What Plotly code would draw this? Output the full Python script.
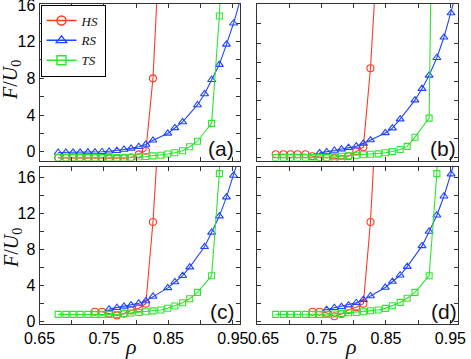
import plotly.graph_objects as go

# ---- data ----
rho_hs = [0.736, 0.747, 0.758, 0.770, 0.781, 0.792, 0.804, 0.815, 0.826, 0.838]
rho_hs_full = [0.679, 0.691, 0.702, 0.713, 0.725] + rho_hs
rho_rs = [0.758, 0.770, 0.781, 0.792, 0.804, 0.815, 0.826, 0.849, 0.860, 0.872,
          0.883, 0.906, 0.917, 0.929, 0.940, 0.951, 0.962]
rho_rs_a = [0.679, 0.691, 0.702, 0.713, 0.725, 0.736, 0.747, 0.758, 0.770, 0.781,
            0.792, 0.804, 0.815, 0.826, 0.849, 0.860, 0.872, 0.895, 0.906, 0.917,
            0.929, 0.940, 0.951, 0.962]
rho_rs_b = [0.747, 0.758, 0.770, 0.781, 0.792, 0.804, 0.815, 0.826, 0.849, 0.860,
            0.872, 0.895, 0.906, 0.917, 0.929, 0.940, 0.951, 0.962]
rho_ts = [0.679, 0.691, 0.702, 0.713, 0.725, 0.736, 0.747, 0.758, 0.770, 0.781,
          0.792, 0.804, 0.815, 0.826, 0.838, 0.849, 0.860, 0.872, 0.883, 0.895,
          0.917, 0.929, 0.940]

a_hs = [-0.66, -0.66, -0.66, -0.66, -0.66, -0.67, -0.68, -0.72, -0.72, -0.70,
        -0.62, -0.28, 0.12, 8.0, 25.0]
a_rs = [-0.08, -0.08, -0.07, -0.06, -0.04, -0.03, 0.0, 0.05, 0.12, 0.25,
        0.37, 0.55, 0.8, 1.25, 2.0, 2.6, 3.25, 5.1, 6.3, 7.85,
        9.5, 11.7, 14.0, 16.7]
a_ts = [-0.62, -0.62, -0.62, -0.62, -0.62, -0.62, -0.62, -0.62, -0.62, -0.6,
        -0.6, -0.57, -0.52, -0.45, -0.38, -0.25, -0.1, 0.12, 0.55, 1.15,
        3.1, 14.8, 31.0]

b_hs = [0.3, 0.3, 0.3, 0.3, 0.3, 0.1, 0.0, -0.05, -0.1, -0.2,
        0.1, 0.62, 1.05, 9.35, 23.0]
b_rs = [0.45, 0.55, 0.7, 0.85, 1.0, 1.15, 1.45, 1.8, 2.55, 3.05,
        4.0, 6.0, 7.2, 8.6, 10.45, 12.6, 15.15, 18.0]
b_ts = [-0.05, -0.05, -0.05, -0.05, -0.05, -0.05, -0.05, -0.05, 0.05, 0.1,
        0.15, 0.2, 0.25, 0.3, 0.35, 0.46, 0.6, 0.8, 1.13, 2.1,
        4.1, 66.0, 120.0]

c_hs = [1.1, 1.1, 0.9, 0.7, 0.9, 1.25, 1.5, 2.0, 11.05, 25.0]
c_rs = [1.4, 1.55, 1.7, 1.85, 2.05, 2.3, 2.8, 3.75, 4.4, 5.1,
        6.05, 8.3, 9.9, 11.7, 13.8, 16.2, 18.8]
c_ts = [0.82, 0.82, 0.82, 0.82, 0.82, 0.82, 0.82, 0.82, 0.8, 0.9,
        0.97, 1.02, 1.1, 1.2, 1.3, 1.5, 1.75, 2.1, 2.55, 3.25,
        5.1, 16.4, 60.0]

d_hs = [1.1, 1.1, 1.0, 0.6, 0.85, 1.3, 1.6, 2.0, 11.05, 27.0]
d_rs = [1.35, 1.55, 1.66, 1.85, 2.1, 2.45, 2.85, 3.8, 4.45, 5.15,
        6.1, 8.4, 10.0, 11.8, 13.9, 16.35, 19.0]
d_ts = [0.82, 0.82, 0.82, 0.82, 0.82, 0.82, 0.82, 0.82, 0.85, 0.93,
        1.0, 1.03, 1.1, 1.22, 1.3, 1.48, 1.77, 2.14, 2.6, 3.25,
        5.1, 16.4, 60.0]

x_ticks = [0.65, 0.75, 0.85, 0.95]
y_ticks = [0, 4, 8, 12, 16]

# ---- figure ----
W, H = 471, 359
RED, BLUE, GREEN = '#ff3b24', '#1f45ff', '#2ee62e'
FRAME = '#333333'

panels = [
    # label, hs (x, y), rs (x, y), ts (x, y), x px range, y px range, y range
    ('(a)', (rho_hs_full, a_hs), (rho_rs_a, a_rs), (rho_ts, a_ts), (39.5, 240), (4, 160.5), [-0.95, 16.1]),
    ('(b)', (rho_hs_full, b_hs), (rho_rs_b, b_rs), (rho_ts, b_ts), (257, 457.5), (4, 160.5), [-0.35, 16.1]),
    ('(c)', (rho_hs, c_hs), (rho_rs, c_rs), (rho_ts, c_ts), (39.5, 240), (166.7, 324), [-0.25, 17.17]),
    ('(d)', (rho_hs, d_hs), (rho_rs, d_rs), (rho_ts, d_ts), (257, 457.5), (166.7, 324), [-0.25, 17.17]),
]

fig = go.Figure()
annotations = []
tickfont = dict(family='Liberation Sans', size=16, color='black')

for i, (lab, hs, rs, ts, xpx, ypx, yr) in enumerate(panels):
    n = '' if i == 0 else str(i + 1)
    xa, ya = 'x' + n, 'y' + n
    for (xs, ys), col, sym, sz in [(hs, RED, 'circle-open', 7),
                                   (rs, BLUE, 'triangle-up-open', 7),
                                   (ts, GREEN, 'square-open', 6)]:
        fig.add_trace(go.Scatter(
            x=xs, y=ys, xaxis=xa, yaxis=ya, mode='lines+markers',
            line=dict(color=col, width=1.1),
            marker=dict(symbol=sym, size=sz, color=col, line=dict(width=1.1, color=col)),
            showlegend=False, hoverinfo='skip'))

    left = i in (0, 2)
    bottom = i in (2, 3)
    ttext = ['0.65', '0.75', '0.85', '0.95']
    if not left:
        ttext[0] = '\u00a0\u00a0\u00a00.65'
    xdom = [xpx[0] / W, xpx[1] / W]
    ydom = [1 - ypx[1] / H, 1 - ypx[0] / H]
    common = dict(showline=True, linecolor=FRAME, linewidth=1, mirror='ticks',
                  ticks='inside', ticklen=4, tickcolor=FRAME, tickwidth=1,
                  showgrid=False, zeroline=False, tickfont=tickfont, automargin=False,
                  ticklabeloverflow='allow')
    fig.layout['xaxis' + n] = dict(
        common, domain=xdom, range=[0.65, 0.961], anchor=ya,
        tickvals=x_ticks, ticktext=ttext, showticklabels=bottom,
        minor=dict(tickvals=[0.70, 0.80, 0.90], ticks='inside', ticklen=4, tickcolor=FRAME))
    fig.layout['yaxis' + n] = dict(
        common, domain=ydom, range=yr, anchor=xa,
        tickvals=y_ticks, showticklabels=left,
        minor=dict(tickvals=[2, 6, 10, 14], ticks='inside', ticklen=4, tickcolor=FRAME))

    cx = {'(a)': 221, '(b)': 443, '(c)': 222, '(d)': 444}[lab]
    cy = {'(a)': 148, '(b)': 148, '(c)': 311, '(d)': 311}[lab]
    annotations.append(dict(text=lab, x=cx / W, y=1 - cy / H, xref='paper', yref='paper',
                            showarrow=False, xanchor='center', yanchor='middle',
                            font=dict(family='Liberation Sans', size=21, color='#111')))

# legend entries (drawn in panel a)
for name, col, sym in [('HS', RED, 'circle-open'), ('RS', BLUE, 'triangle-up-open'),
                       ('TS', GREEN, 'square-open')]:
    fig.add_trace(go.Scatter(
        x=[None], y=[None], mode='lines+markers', name='<i>' + name + '</i>',
        line=dict(color=col, width=1.5),
        marker=dict(symbol=sym, size=9, color=col, line=dict(width=1.4, color=col))))

# axis titles
for cy in (80, 248):
    annotations.append(dict(text='<i>F</i>/<i>U</i><sub>0</sub>', x=12 / W, y=1 - cy / H,
                            xref='paper', yref='paper', showarrow=False, textangle=-90,
                            xanchor='center', yanchor='middle',
                            font=dict(family='Liberation Serif', size=20, color='#111')))
for cx in (131, 351):
    annotations.append(dict(text='<i>ρ</i>', x=cx / W, y=1 - 346 / H,
                            xref='paper', yref='paper', showarrow=False,
                            xanchor='center', yanchor='middle',
                            font=dict(family='Liberation Serif', size=22, color='#111')))

fig.update_layout(
    width=W, height=H, autosize=False,
    margin=dict(l=0, r=0, t=0, b=0, pad=0, autoexpand=False),
    plot_bgcolor='white', paper_bgcolor='white',
    showlegend=True,
    legend=dict(x=40.5 / W, y=1 - 4.5 / H, xanchor='left', yanchor='top',
                bgcolor='white', bordercolor='black', borderwidth=1,
                font=dict(family='Liberation Serif', size=13, color='#111'),
                itemwidth=30, tracegroupgap=0),
    annotations=annotations,
)

# the page body has a default 8px margin; drop it so the figure sits at the corner
fig.write_html("out.html", config={'displayModeBar': False},
               post_script="document.body.style.margin='0';")
